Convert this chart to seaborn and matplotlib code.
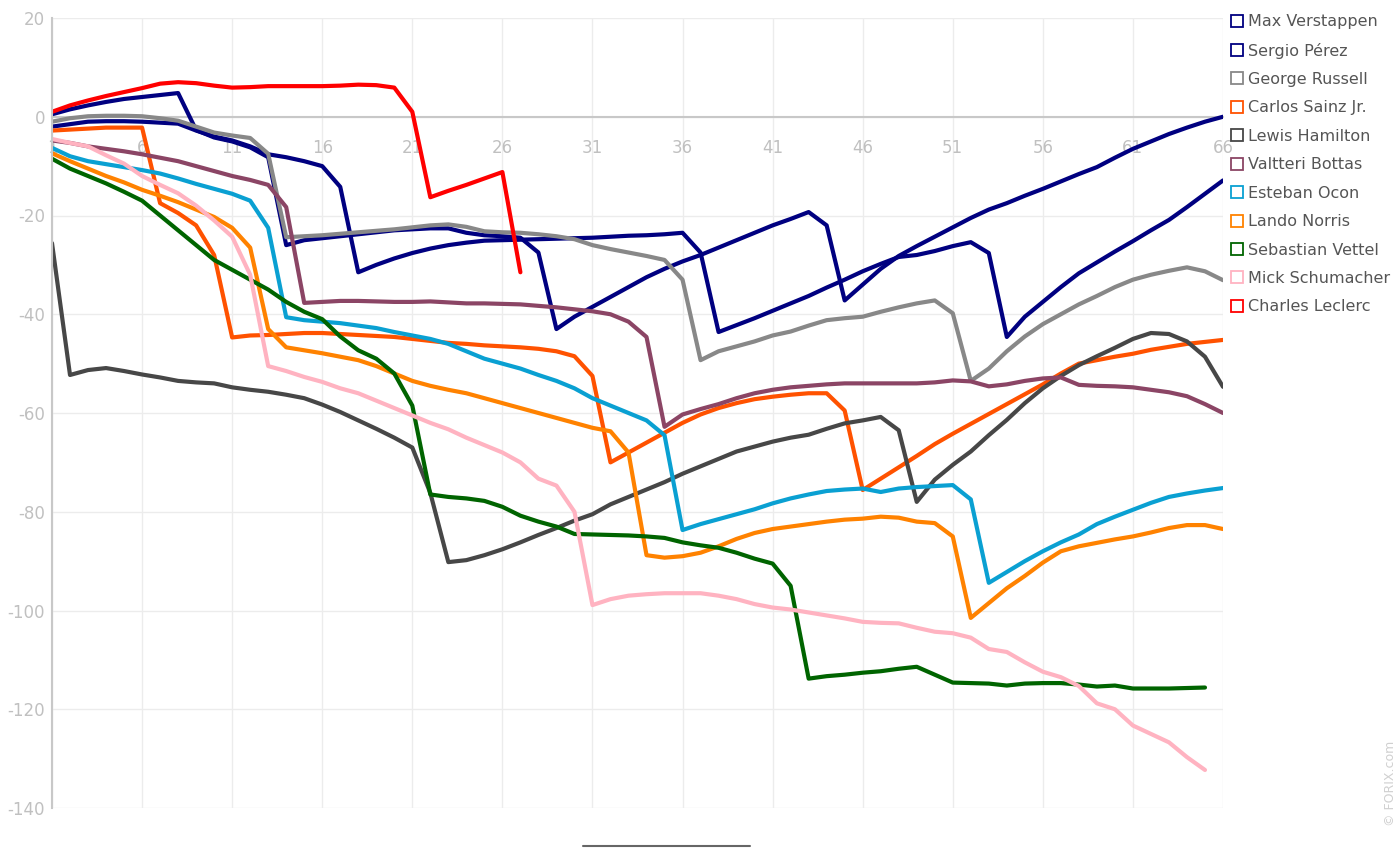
import pandas as pd
import matplotlib
matplotlib.use("Agg")
import matplotlib.pyplot as plt
import seaborn as sns
from matplotlib.lines import Line2D
from matplotlib.ticker import MultipleLocator, FixedLocator

drivers = ["Max Verstappen", "Sergio Pérez", "George Russell", "Carlos Sainz Jr.",
           "Lewis Hamilton", "Valtteri Bottas", "Esteban Ocon", "Lando Norris",
           "Sebastian Vettel", "Mick Schumacher", "Charles Leclerc"]
colors = ["#000080", "#000080", "#888888", "#ff5200", "#474747", "#8b4565",
          "#0aa0d2", "#ff8200", "#006400", "#ffb3c1", "#ff0000"]

# gap per lap, lap 1 onwards
verstappen = [0.5, 1.5, 2.3, 3.0, 3.6, 4.0, 4.4, 4.8, -2.7, -4.2, -5.0, -6.2, -8.2, -26.0,
              -25.0, -24.6, -24.2, -23.8, -23.4, -23.0, -22.8, -22.6, -22.6, -23.5, -24.0,
              -24.2, -24.5, -27.5, -43.0, -40.5, -38.5, -36.5, -34.5, -32.5, -30.8, -29.3,
              -28.0, -26.5, -25.0, -23.5, -22.0, -20.7, -19.3, -22.0, -37.2, -34.0, -30.8,
              -28.2, -26.2, -24.3, -22.4, -20.5, -18.8, -17.5, -16.0, -14.6, -13.1, -11.6,
              -10.2, -8.3, -6.5, -5.0, -3.5, -2.2, -1.0, 0.0]
perez = [-2.0, -1.5, -1.0, -0.9, -0.9, -1.0, -1.2, -1.4, -2.8, -4.0, -4.8, -6.0, -7.6, -8.2,
         -9.0, -10.0, -14.2, -31.5, -30.0, -28.7, -27.6, -26.7, -26.0, -25.5, -25.1, -25.0,
         -24.9, -24.8, -24.7, -24.6, -24.5, -24.3, -24.1, -24.0, -23.8, -23.5, -27.5, -43.6,
         -42.2, -40.8, -39.3, -37.8, -36.3, -34.6, -33.0, -31.3, -29.8, -28.4, -28.0, -27.2,
         -26.2, -25.4, -27.6, -44.6, -40.5, -37.5, -34.5, -31.7, -29.5, -27.3, -25.2, -23.0,
         -20.9, -18.3, -15.6, -12.9]
russell = [-1.0, -0.3, 0.1, 0.2, 0.2, 0.1, -0.3, -0.8, -2.0, -3.2, -3.8, -4.3, -7.5, -24.4,
           -24.2, -24.0, -23.7, -23.4, -23.1, -22.8, -22.4, -22.0, -21.8, -22.3, -23.2, -23.4,
           -23.5, -23.8, -24.2, -24.8, -26.0, -26.8, -27.5, -28.2, -29.0, -33.0, -49.3, -47.5,
           -46.5, -45.5, -44.3, -43.5, -42.3, -41.2, -40.8, -40.5, -39.5, -38.6, -37.8, -37.2,
           -39.8, -53.5, -51.0, -47.5, -44.5, -42.0, -40.0, -38.0, -36.3, -34.5, -33.0, -32.0,
           -31.2, -30.5, -31.3, -33.1]
sainz = [-2.8, -2.6, -2.4, -2.2, -2.2, -2.2, -17.5, -19.5, -22.0, -28.0, -44.7, -44.3, -44.2,
         -44.0, -43.8, -43.8, -44.0, -44.2, -44.4, -44.6, -45.0, -45.4, -45.8, -46.0, -46.3,
         -46.5, -46.7, -47.0, -47.5, -48.5, -52.5, -70.0, -68.0, -66.0, -64.0, -62.0, -60.3,
         -59.0, -58.0, -57.2, -56.7, -56.3, -56.0, -56.0, -59.5, -75.6, -73.3, -71.0, -68.7,
         -66.3, -64.2, -62.2, -60.2, -58.2, -56.2, -54.2, -52.0, -50.0, -49.3, -48.6, -48.0,
         -47.2, -46.6, -46.0, -45.6, -45.2]
hamilton = [-25.6, -52.3, -51.3, -50.9, -51.5, -52.2, -52.8, -53.5, -53.8, -54.0, -54.8, -55.3,
            -55.7, -56.3, -57.0, -58.3, -59.8, -61.5, -63.2, -65.0, -67.0, -76.2, -90.2, -89.8,
            -88.8, -87.6, -86.2, -84.7, -83.3, -81.8, -80.5, -78.5, -77.0, -75.5, -74.0, -72.3,
            -70.8, -69.3, -67.8, -66.8, -65.8, -65.0, -64.4, -63.2, -62.1, -61.5, -60.8, -63.5,
            -78.0, -73.5, -70.5, -67.8, -64.5, -61.4, -58.0, -55.0, -52.5, -50.3, -48.5, -46.8,
            -45.0, -43.8, -44.0, -45.5, -48.6, -54.7]
bottas = [-4.8, -5.3, -6.0, -6.5, -7.0, -7.6, -8.3, -9.0, -10.0, -11.0, -12.0, -12.8, -13.8,
          -18.3, -37.7, -37.5, -37.3, -37.3, -37.4, -37.5, -37.5, -37.4, -37.6, -37.8, -37.8,
          -37.9, -38.0, -38.3, -38.6, -39.0, -39.4, -40.0, -41.5, -44.6, -62.8, -60.3, -59.2,
          -58.2, -57.0, -56.0, -55.3, -54.8, -54.5, -54.2, -54.0, -54.0, -54.0, -54.0, -54.0,
          -53.8, -53.4, -53.6, -54.6, -54.2, -53.5, -53.0, -52.8, -54.3, -54.5, -54.6, -54.8,
          -55.3, -55.8, -56.6, -58.2, -60.0]
ocon = [-6.3, -8.0, -9.0, -9.6, -10.2, -10.8, -11.5, -12.5, -13.6, -14.6, -15.6, -17.0, -22.5,
        -40.6, -41.2, -41.5, -41.8, -42.3, -42.8, -43.6, -44.3, -45.0, -46.0, -47.5, -49.0,
        -50.0, -51.0, -52.3, -53.5, -55.0, -57.0, -58.5, -60.0, -61.5, -64.5, -83.7, -82.5,
        -81.5, -80.5, -79.5, -78.3, -77.3, -76.5, -75.8, -75.5, -75.3, -76.0, -75.3, -75.0,
        -74.8, -74.6, -77.5, -94.4, -92.2, -90.0, -88.0, -86.2, -84.6, -82.5, -81.0, -79.6,
        -78.2, -77.0, -76.3, -75.7, -75.2]
norris = [-7.4, -9.0, -10.5, -12.0, -13.3, -14.8, -16.0, -17.3, -18.8, -20.3, -22.5, -26.5,
          -43.0, -46.7, -47.3, -47.9, -48.6, -49.3, -50.5, -52.0, -53.5, -54.5, -55.3, -56.0,
          -57.0, -58.0, -59.0, -60.0, -61.0, -62.0, -63.0, -63.7, -68.0, -88.8, -89.3, -89.0,
          -88.3, -87.0, -85.5, -84.3, -83.5, -83.0, -82.5, -82.0, -81.6, -81.4, -81.0, -81.2,
          -82.0, -82.3, -85.0, -101.5, -98.5, -95.5, -93.0, -90.3, -88.0, -87.0, -86.3, -85.6,
          -85.0, -84.2, -83.3, -82.7, -82.7, -83.5]
vettel = [-8.5, -10.5, -12.0, -13.5, -15.2, -17.0, -20.0, -23.0, -26.0, -29.0, -31.0, -33.0,
          -35.0, -37.5, -39.5, -41.0, -44.5, -47.3, -49.0, -52.0, -58.5, -76.5, -77.0, -77.3,
          -77.8, -79.0, -80.8, -82.0, -83.0, -84.5, -84.6, -84.7, -84.8, -85.0, -85.3, -86.2,
          -86.8, -87.3, -88.3, -89.5, -90.5, -95.0, -113.8, -113.3, -113.0, -112.6, -112.3,
          -111.8, -111.4, -113.0, -114.6, -114.7, -114.8, -115.2, -114.8, -114.7, -114.7,
          -115.0, -115.4, -115.2, -115.8, -115.8, -115.8, -115.7, -115.6]
schumacher = [-4.5, -5.3, -6.0, -7.8, -9.5, -12.0, -13.8, -15.5, -18.0, -21.0, -24.3, -32.0,
              -50.5, -51.5, -52.7, -53.7, -55.0, -56.0, -57.5, -59.0, -60.5, -62.0, -63.3,
              -65.0, -66.5, -68.0, -70.0, -73.3, -74.7, -80.0, -98.9, -97.7, -97.0, -96.7,
              -96.5, -96.5, -96.5, -97.0, -97.7, -98.7, -99.4, -99.8, -100.4, -101.0, -101.6,
              -102.3, -102.5, -102.6, -103.5, -104.3, -104.6, -105.5, -107.8, -108.4, -110.5,
              -112.4, -113.5, -115.3, -118.8, -120.0, -123.3, -125.0, -126.7, -129.7, -132.3]
leclerc = [1.0, 2.3, 3.3, 4.2, 5.0, 5.8, 6.7, 7.0, 6.8, 6.3, 5.9, 6.0, 6.2, 6.2, 6.2, 6.2,
           6.3, 6.5, 6.4, 5.9, 1.0, -16.3, -15.0, -13.8, -12.5, -11.2, -31.5]

series = [verstappen, perez, russell, sainz, hamilton, bottas, ocon, norris,
          vettel, schumacher, leclerc]

rows = []
for name, vals in zip(drivers, series):
    for i, v in enumerate(vals):
        rows.append({"lap": i + 1, "gap": v, "driver": name})
df = pd.DataFrame(rows)

sns.set_style("white")
plt.rcParams['font.family'] = ['DejaVu Sans']
plt.rcParams['axes.unicode_minus'] = False

fig = plt.figure(figsize=(13.98, 8.48), dpi=100)
ax = fig.add_axes([52/1398, 1 - 808/848, 1171/1398, 790/848])

sns.lineplot(data=df, x="lap", y="gap", hue="driver", hue_order=drivers,
             palette=dict(zip(drivers, colors)), estimator=None, sort=False,
             lw=3, legend=False, ax=ax)

ax.set_xlim(1, 66)
ax.set_ylim(-140, 20)
ax.set_xlabel("")
ax.set_ylabel("")

ax.xaxis.set_major_locator(FixedLocator(list(range(1, 67, 5))))
ax.xaxis.set_minor_locator(MultipleLocator(1))
ax.yaxis.set_major_locator(MultipleLocator(20))
ax.yaxis.set_minor_locator(FixedLocator(list(range(-130, 20, 20))))

ax.grid(True, which="major", color="#ececec", lw=1)
ax.set_axisbelow(True)

for s in ["top", "right"]:
    ax.spines[s].set_visible(False)
ax.spines["bottom"].set_position(("data", 0))
ax.spines["bottom"].set_color("#c8c8c8")
ax.spines["left"].set_color("#c8c8c8")
ax.spines["bottom"].set_linewidth(1.5)
ax.spines["left"].set_linewidth(1.5)
ax.spines["bottom"].set_zorder(1)

ax.tick_params(axis="x", which="major", direction="out", length=7, width=1,
               color="#c8c8c8", labelcolor="#c0c0c0", labelsize=12, pad=9)
ax.tick_params(axis="x", which="minor", direction="out", length=4, width=1,
               color="#c8c8c8")
ax.tick_params(axis="y", which="major", direction="in", length=8, width=1,
               color="#c8c8c8", labelcolor="#c0c0c0", labelsize=12, pad=5)
ax.tick_params(axis="y", which="minor", direction="in", length=5, width=1,
               color="#c8c8c8")

handles = [Line2D([], [], marker="s", ms=9, mfc="none", mec=c, mew=1.3, ls="none")
           for c in colors]
leg = ax.legend(handles, drivers, loc="upper left",
                bbox_to_anchor=(1226/1398, 1 - 11/848), bbox_transform=fig.transFigure,
                frameon=False, fontsize=11.5, labelcolor="#555555",
                handletextpad=0.2, labelspacing=0.84, handlelength=1.0,
                borderaxespad=0, borderpad=0.2)

fig.text(1390/1398, 1 - 783/848, "© FORIX.com", rotation=90, color="#d0d0d0",
         fontsize=9, ha="center", va="center")
fig.add_artist(Line2D([583/1398, 750/1398], [1 - 846/848, 1 - 846/848],
                      color="#666666", lw=1.5))

fig.savefig("out.png", dpi=100)
